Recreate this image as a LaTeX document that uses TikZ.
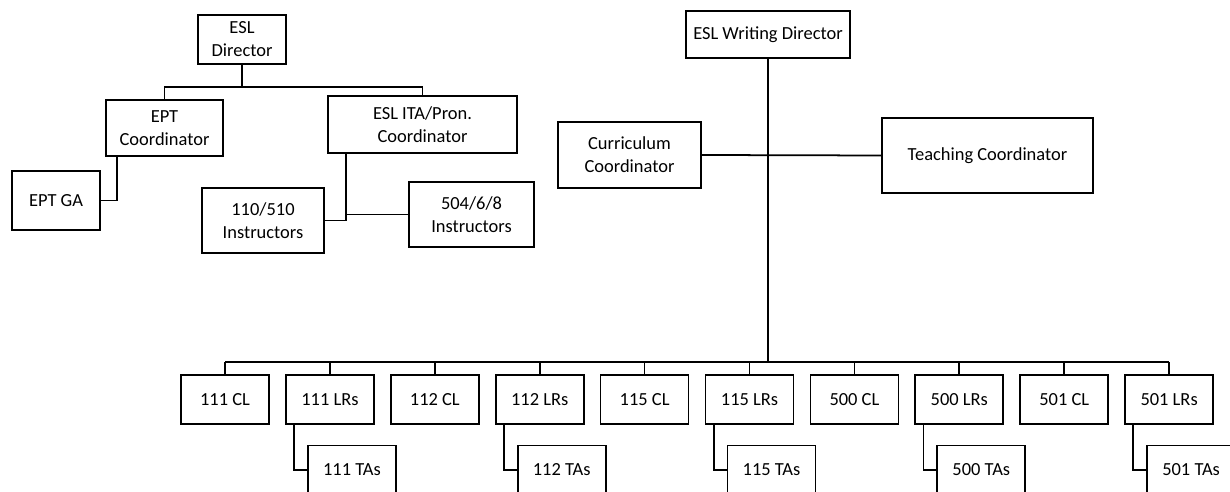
\documentclass[tikz,border=0pt]{standalone}
\usepackage{fontspec}
\setmainfont{Carlito}
\usepackage{tikz}

\begin{document}
\begin{tikzpicture}[x=0.02cm,y=-0.02cm,line width=1pt,
	box/.style={draw,inner sep=0pt,align=center,font=\fontsize{10.5}{13}\selectfont},
	unit/.style={box,minimum width=1.76cm,minimum height=0.98cm}]
\useasboundingbox (0,0) rectangle (1230,492);
\clip (0,0) rectangle (1230,492);
% left chart
\node[box,minimum width=1.76cm,minimum height=0.98cm] (esldir) at (242,39.5) {ESL\\Director};
\node[box,minimum width=2.34cm,minimum height=1.12cm] (eptcoord) at (164.5,128) {EPT\\Coordinator};
\node[box,minimum width=3.78cm,minimum height=1.14cm] (itacoord) at (422.5,124.5) {ESL ITA/Pron.\\Coordinator};
\node[box,minimum width=1.76cm,minimum height=1.18cm] (eptga) at (56,200.5) {EPT GA};
\node[box,minimum width=2.44cm,minimum height=1.3cm] (inst110) at (263,220.5) {110/510\\Instructors};
\node[box,minimum width=2.5cm,minimum height=1.3cm] (inst504) at (471.5,214.5) {504/6/8\\Instructors};
\coordinate (dirbus) at (242,87);
\coordinate (itadrop) at ([xshift=0.38cm]itacoord.south west);
\draw (esldir.south) -- (dirbus);
\draw (eptcoord.north) |- (dirbus) -| (itacoord.north);
\draw ([xshift=0.23cm]eptcoord.south west) |- (eptga.east);
\draw (itadrop) |- (inst110.east);
\draw (inst504.west) -- (inst504.west -| itadrop);
% right chart
\node[box,minimum width=3.28cm,minimum height=0.94cm] (wdir) at (768,34.5) {ESL Writing Director};
\node[box,minimum width=2.86cm,minimum height=1.32cm] (curr) at (629.5,155) {Curriculum\\Coordinator};
\node[box,minimum width=4.22cm,minimum height=1.5cm] (teach) at (987.5,155.5) {Teaching Coordinator};
\coordinate (bus) at (768,362);
\draw (wdir.south) -- (bus);
\draw (curr.east) -- (teach.west);
\foreach \txt/\nm [count=\i from 0] in {111 CL/cl111,111 LRs/lr111,112 CL/cl112,112 LRs/lr112,
	115 CL/cl115,115 LRs/lr115,500 CL/cl500,500 LRs/lr500,501 CL/cl501,501 LRs/lr501}
	\node[unit] (\nm) at (225+104.9*\i,399.5) {\txt};
\draw (cl111.north |- bus) -- (lr501.north |- bus);
\foreach \nm in {cl111,lr111,cl112,lr112,cl115,lr115,cl500,lr500,cl501,lr501}
	\draw (\nm.north) -- (\nm.north |- bus);
\foreach \c in {111,112,115,500,501}{
	\node[unit] (ta\c) at ([xshift=0.44cm,yshift=-1.41cm]lr\c.center) {\c\ TAs};
	\draw ([xshift=0.18cm]lr\c.south west) |- (ta\c.west);
}
\end{tikzpicture}
\end{document}
